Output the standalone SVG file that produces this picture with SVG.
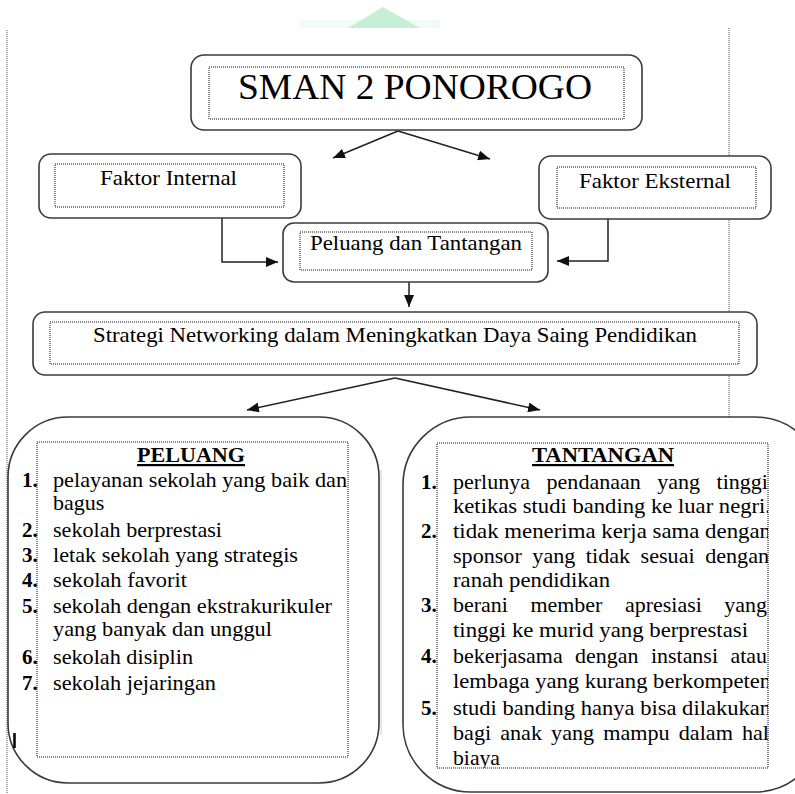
<svg xmlns="http://www.w3.org/2000/svg" width="795" height="794" viewBox="0 0 795 794" font-family="'Liberation Serif','Times New Roman',serif">
<style>
text{font-family:"Liberation Serif","Times New Roman",serif;fill:#000}
.t22{font-size:22px}
.num{font-size:21px;font-weight:bold}
.li{font-size:22px}
.hd{font-size:22px;font-weight:bold;text-decoration:underline}
.box{fill:#fff;stroke:#3a3a3a;stroke-width:1.6}
.dot{fill:none;stroke:#111;stroke-width:1;stroke-dasharray:1 1}
.page{stroke:#555;stroke-width:1;stroke-dasharray:1 1}
.con{fill:none;stroke:#222;stroke-width:1.5}
</style>
<defs>
<marker id="ah" markerUnits="userSpaceOnUse" markerWidth="13" markerHeight="10" refX="12" refY="5" orient="auto">
<path d="M0,0 L12,5 L0,10 z" fill="#111"/>
</marker>
<clipPath id="clipT"><rect x="437" y="443" width="331" height="325"/></clipPath>
</defs>
<rect width="795" height="794" fill="#fff"/>
<g id="watermark">
<rect x="300" y="20" width="140" height="8" fill="#f0fbf5"/>
<polygon points="383,7 348,28 420,28" fill="#c6f0d6"/>
</g>
<g id="page-lines">
<line class="page" x1="7" y1="30" x2="7" y2="794"/>
<line class="page" x1="729" y1="28" x2="729" y2="418"/>
<line x1="381" y1="470" x2="381" y2="735" stroke="#d0d0d0" stroke-width="1"/>
</g>
<g id="connectors">
<line class="con" x1="398" y1="131" x2="333" y2="158" marker-end="url(#ah)"/>
<line class="con" x1="398" y1="131" x2="490" y2="159" marker-end="url(#ah)"/>
<polyline class="con" points="222,218 222,262 278,262" marker-end="url(#ah)"/>
<polyline class="con" points="608,219 608,261 557,261" marker-end="url(#ah)"/>
<line class="con" x1="409" y1="282" x2="409" y2="307" marker-end="url(#ah)"/>
<line class="con" x1="395" y1="378" x2="247" y2="410" marker-end="url(#ah)"/>
<line class="con" x1="395" y1="378" x2="540" y2="410" marker-end="url(#ah)"/>
</g>
<g id="sman">
<rect class="box" x="191" y="55" width="451" height="75" rx="13"/>
<rect class="dot" x="209" y="67" width="415" height="52"/>
<text x="238" y="99" font-size="36" textLength="354" lengthAdjust="spacingAndGlyphs">SMAN 2 PONOROGO</text>
</g>
<g id="faktor-internal">
<rect class="box" x="39" y="154" width="262" height="64" rx="12"/>
<rect class="dot" x="55" y="164" width="229" height="43"/>
<text class="t22" x="100" y="185" textLength="137" lengthAdjust="spacingAndGlyphs">Faktor Internal</text>
</g>
<g id="faktor-eksternal">
<rect class="box" x="539" y="156" width="232" height="63" rx="12"/>
<rect class="dot" x="557" y="167" width="199" height="41"/>
<text class="t22" x="579" y="188" textLength="152" lengthAdjust="spacingAndGlyphs">Faktor Eksternal</text>
</g>
<g id="peluang-tantangan">
<rect class="box" x="283" y="223" width="265" height="59" rx="11"/>
<rect class="dot" x="300" y="232" width="232" height="38"/>
<text class="t22" x="310" y="250" textLength="212" lengthAdjust="spacingAndGlyphs">Peluang dan Tantangan</text>
</g>
<g id="strategi">
<rect class="box" x="33" y="312" width="724" height="63" rx="12"/>
<rect class="dot" x="50" y="322" width="689" height="42"/>
<text class="t22" x="93" y="342" textLength="604" lengthAdjust="spacingAndGlyphs">Strategi Networking dalam Meningkatkan Daya Saing Pendidikan</text>
</g>
<g id="peluang">
<rect class="box" x="8" y="417" width="371" height="366" rx="60"/>
<rect class="dot" x="37" y="442" width="311" height="315"/>
<text class="hd" x="137" y="462" textLength="108" lengthAdjust="spacingAndGlyphs">PELUANG</text>
<text class="num" x="22" y="487">1.</text>
<text class="li" x="53" y="487" textLength="294" lengthAdjust="spacingAndGlyphs">pelayanan sekolah yang baik dan</text>
<text class="li" x="53" y="510">bagus</text>
<text class="num" x="22" y="537">2.</text>
<text class="li" x="53" y="537" textLength="169" lengthAdjust="spacingAndGlyphs">sekolah berprestasi</text>
<text class="num" x="22" y="562">3.</text>
<text class="li" x="53" y="562" textLength="245" lengthAdjust="spacingAndGlyphs">letak sekolah yang strategis</text>
<text class="num" x="22" y="587">4.</text>
<text class="li" x="53" y="587" textLength="134" lengthAdjust="spacingAndGlyphs">sekolah favorit</text>
<text class="num" x="22" y="613">5.</text>
<text class="li" x="53" y="613" textLength="279" lengthAdjust="spacingAndGlyphs">sekolah dengan ekstrakurikuler</text>
<text class="li" x="53" y="636" textLength="219" lengthAdjust="spacingAndGlyphs">yang banyak dan unggul</text>
<text class="num" x="22" y="664">6.</text>
<text class="li" x="53" y="664" textLength="140" lengthAdjust="spacingAndGlyphs">sekolah disiplin</text>
<text class="num" x="22" y="690">7.</text>
<text class="li" x="53" y="690" textLength="163" lengthAdjust="spacingAndGlyphs">sekolah jejaringan</text>
<line x1="14.5" y1="733" x2="14.5" y2="748" stroke="#000" stroke-width="2.5"/>
</g>
<g id="tantangan">
<rect class="box" x="403" y="417" width="420" height="375" rx="68"/>
<rect class="dot" x="437" y="443" width="331" height="325"/>
<text class="hd" x="532" y="462" textLength="142" lengthAdjust="spacingAndGlyphs">TANTANGAN</text>
<text class="num" x="421" y="489">1.</text>
<text class="num" x="421" y="538">2.</text>
<text class="num" x="421" y="612">3.</text>
<text class="num" x="421" y="663">4.</text>
<text class="num" x="421" y="715">5.</text>
<g clip-path="url(#clipT)">
<text class="li" x="453" y="489" word-spacing="11" textLength="315" lengthAdjust="spacingAndGlyphs">perlunya pendanaan yang tinggi</text>
<text class="li" x="453" y="513" textLength="318" lengthAdjust="spacingAndGlyphs">ketikas studi banding ke luar negri.</text>
<text class="li" x="453" y="538" textLength="318" lengthAdjust="spacingAndGlyphs">tidak menerima kerja sama dengan</text>
<text class="li" x="453" y="563" word-spacing="5" textLength="316" lengthAdjust="spacingAndGlyphs">sponsor yang tidak sesuai dengan</text>
<text class="li" x="453" y="587" textLength="157" lengthAdjust="spacingAndGlyphs">ranah pendidikan</text>
<text class="li" x="453" y="612" word-spacing="17" textLength="314" lengthAdjust="spacingAndGlyphs">berani member apresiasi yang</text>
<text class="li" x="453" y="637" textLength="295" lengthAdjust="spacingAndGlyphs">tinggi ke murid yang berprestasi</text>
<text class="li" x="453" y="663" word-spacing="7" textLength="314" lengthAdjust="spacingAndGlyphs">bekerjasama dengan instansi atau</text>
<text class="li" x="453" y="688" textLength="318" lengthAdjust="spacingAndGlyphs">lembaga yang kurang berkompeten</text>
<text class="li" x="453" y="715" textLength="318" lengthAdjust="spacingAndGlyphs">studi banding hanya bisa dilakukan</text>
<text class="li" x="453" y="740" word-spacing="3.5" textLength="316" lengthAdjust="spacingAndGlyphs">bagi anak yang mampu dalam hal</text>
<text class="li" x="453" y="765" textLength="47" lengthAdjust="spacingAndGlyphs">biaya</text>
</g>
</g>
</svg>
